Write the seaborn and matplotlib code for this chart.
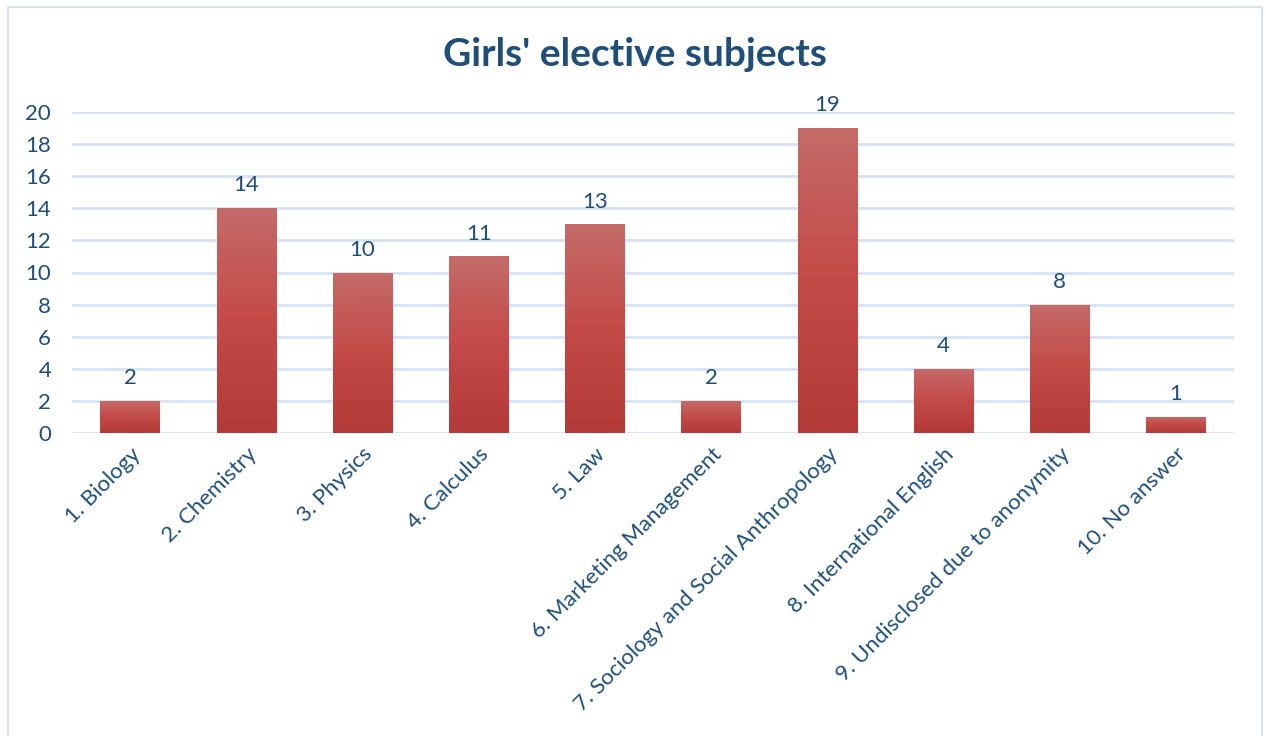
import numpy as np
import pandas as pd
import matplotlib
matplotlib.use("Agg")
import matplotlib.pyplot as plt
import seaborn as sns
from matplotlib.colors import LinearSegmentedColormap
from matplotlib.patches import Rectangle

subjects = [
    "1. Biology",
    "2. Chemistry",
    "3. Physics",
    "4. Calculus",
    "5. Law",
    "6. Marketing Management",
    "7. Sociology and Social Anthropology",
    "8. International English",
    "9. Undisclosed due to anonymity",
    "10. No answer",
]
counts = [2, 14, 10, 11, 13, 2, 19, 4, 8, 1]
y_ticks = [0, 2, 4, 6, 8, 10, 12, 14, 16, 18, 20]

TEXT = "#1f4e79"
GRID = "#d6e2f3"

sns.set_theme(style="white")
plt.rcParams["font.family"] = ["Lato", "DejaVu Sans"]

df = pd.DataFrame({"subject": subjects, "count": counts})

fig = plt.figure(figsize=(12.66, 7.36), dpi=100)
ax = fig.add_axes([72 / 1266, 1 - 433 / 736, 1162 / 1266, 321 / 736])

sns.barplot(data=df, x="subject", y="count", color="#c0504d", width=0.51,
            ax=ax, zorder=3)

# vertical gradient fill for each bar
grad = LinearSegmentedColormap.from_list("bar", ["#b33a37", "#c44a47", "#c46b69"])
g = np.linspace(0, 1, 256).reshape(-1, 1)
for patch in ax.patches:
    x0, y0 = patch.get_x(), patch.get_y()
    w, h = patch.get_width(), patch.get_height()
    im = ax.imshow(g, cmap=grad, origin="lower", aspect="auto",
                   extent=[x0, x0 + w, y0, y0 + h], zorder=4)
    im.set_clip_path(patch)
    patch.set_facecolor("none")
    patch.set_edgecolor("none")

for i, v in enumerate(counts):
    ax.text(i, v + 0.8, str(v), ha="center", va="bottom",
            fontsize=16, color=TEXT, zorder=5)

ax.set_xlim(-0.5, len(subjects) - 0.5)
ax.set_ylim(0, 20)
ax.set_yticks(y_ticks)
ax.set_yticklabels([str(t) for t in y_ticks], fontsize=16, color=TEXT)
ax.yaxis.grid(True, color=GRID, linewidth=2, zorder=0)
ax.set_axisbelow(True)
ax.tick_params(axis="y", length=0, pad=15)
ax.tick_params(axis="x", length=0, pad=8)
ax.set_xticks(range(len(subjects)))
ax.set_xticklabels(subjects, rotation=45, ha="right", rotation_mode="anchor",
                   fontsize=16, color=TEXT)
ax.set_xlabel("")
ax.set_ylabel("")
for s in ax.spines.values():
    s.set_visible(False)

fig.text(635 / 1266, 1 - 55 / 736, "Girls' elective subjects", ha="center",
         va="center", fontsize=28, fontweight="bold", color=TEXT)

fig.patches.append(Rectangle((8 / 1266, -10 / 736), 1254 / 1266, 739 / 736,
                             transform=fig.transFigure, fill=False,
                             edgecolor="#d9e3f3", linewidth=1.5))

fig.savefig("out.png", dpi=100)
